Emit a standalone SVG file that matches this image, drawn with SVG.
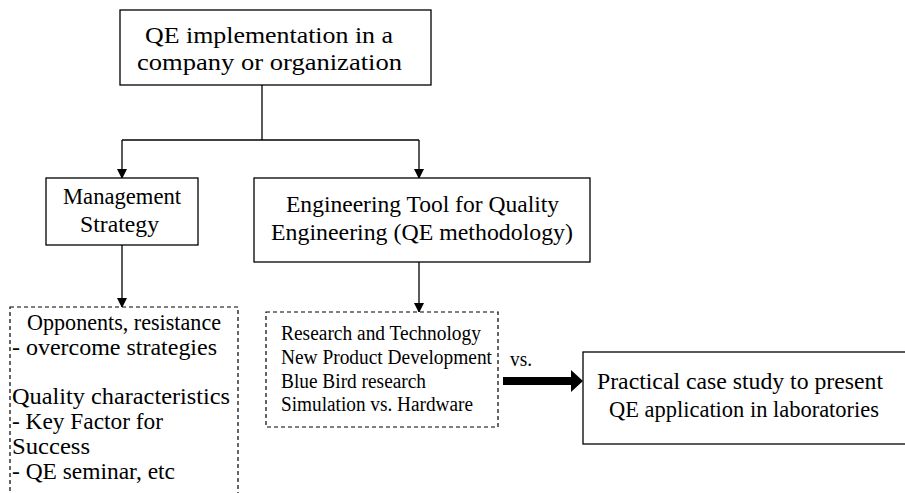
<svg xmlns="http://www.w3.org/2000/svg" width="905" height="493" viewBox="0 0 905 493">
<style>
.box{fill:#fff;stroke:#000;stroke-width:1.3}
.dash{fill:#fff;stroke:#000;stroke-width:1.2;stroke-dasharray:4,3}
.ln{fill:none;stroke:#000;stroke-width:1.3}
.t{font-family:'Liberation Serif','DejaVu Serif','Noto Serif',serif;font-size:24px;fill:#000}
.s{font-size:20.5px}
</style>
<defs>
<marker id="ah" markerWidth="10" markerHeight="10" refX="9" refY="5" orient="auto" markerUnits="userSpaceOnUse">
<path d="M0,0 L10,5 L0,10 z" fill="#000"/>
</marker>
</defs>
<rect width="905" height="493" fill="#fff"/>
<g id="connectors">
<polyline class="ln" points="262,85 262,140"/>
<polyline class="ln" points="122,140 419,140"/>
<line class="ln" x1="122" y1="140" x2="122" y2="178" marker-end="url(#ah)"/>
<line class="ln" x1="419" y1="140" x2="419" y2="178" marker-end="url(#ah)"/>
<line class="ln" x1="122" y1="245" x2="122" y2="307" marker-end="url(#ah)"/>
<line class="ln" x1="419" y1="262" x2="419" y2="312" marker-end="url(#ah)"/>
<path d="M503,377 L571,377 L571,370 L583,381 L571,392 L571,385 L503,385 z" fill="#000"/>
<text class="t s" x="510" y="366" textLength="22" lengthAdjust="spacingAndGlyphs">vs.</text>
</g>
<g id="top">
<rect class="box" x="120" y="10" width="311" height="75"/>
<text class="t" x="145" y="43" textLength="248" lengthAdjust="spacingAndGlyphs">QE implementation in a</text>
<text class="t" x="137" y="70" textLength="265" lengthAdjust="spacingAndGlyphs">company or organization</text>
</g>
<g id="mgmt">
<rect class="box" x="46" y="178" width="152" height="67"/>
<text class="t" x="63" y="204" textLength="118" lengthAdjust="spacingAndGlyphs">Management</text>
<text class="t" x="80" y="232" textLength="79" lengthAdjust="spacingAndGlyphs">Strategy</text>
</g>
<g id="eng">
<rect class="box" x="254" y="178" width="336" height="84"/>
<text class="t" x="286" y="212" textLength="273" lengthAdjust="spacingAndGlyphs">Engineering Tool for Quality</text>
<text class="t" x="271" y="240" textLength="302" lengthAdjust="spacingAndGlyphs">Engineering  (QE methodology)</text>
</g>
<g id="left">
<rect class="dash" x="10" y="307" width="228" height="200"/>
<text class="t" x="27" y="330" textLength="194" lengthAdjust="spacingAndGlyphs">Opponents, resistance</text>
<text class="t" x="12" y="355" textLength="205" lengthAdjust="spacingAndGlyphs">-  overcome strategies</text>
<text class="t" x="12" y="404" textLength="218" lengthAdjust="spacingAndGlyphs">Quality characteristics</text>
<text class="t" x="12" y="429" textLength="151" lengthAdjust="spacingAndGlyphs">- Key Factor for</text>
<text class="t" x="12" y="454" textLength="78" lengthAdjust="spacingAndGlyphs">Success</text>
<text class="t" x="12" y="479" textLength="163" lengthAdjust="spacingAndGlyphs">- QE seminar, etc</text>
</g>
<g id="mid">
<rect class="dash" x="266" y="312" width="232" height="115"/>
<text class="t s" x="281" y="340" textLength="200" lengthAdjust="spacingAndGlyphs">Research and Technology</text>
<text class="t s" x="281" y="364" textLength="211" lengthAdjust="spacingAndGlyphs">New Product Development</text>
<text class="t s" x="281" y="388" textLength="145" lengthAdjust="spacingAndGlyphs">Blue Bird research</text>
<text class="t s" x="281" y="411" textLength="192" lengthAdjust="spacingAndGlyphs">Simulation vs. Hardware</text>
</g>
<g id="right">
<rect class="box" x="583" y="352" width="330" height="92"/>
<text class="t" x="597" y="389" textLength="286" lengthAdjust="spacingAndGlyphs">Practical case study to  present</text>
<text class="t" x="609" y="417" textLength="270" lengthAdjust="spacingAndGlyphs">QE application in laboratories</text>
</g>
</svg>
